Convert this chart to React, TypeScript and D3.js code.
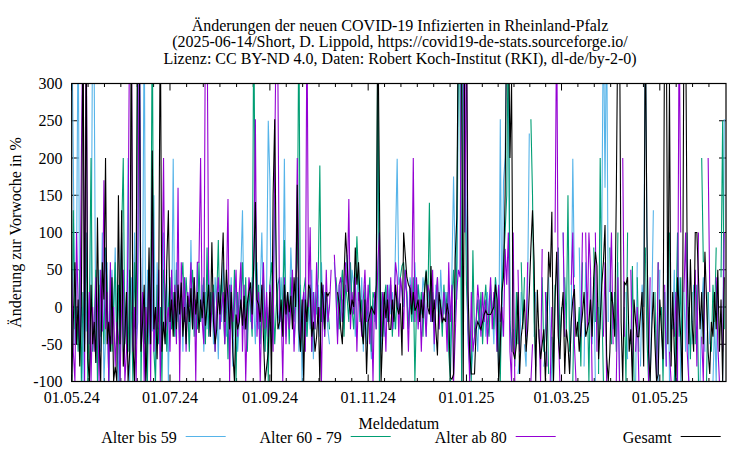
import React from 'react'
import * as d3 from 'd3'

const _ = null

// Änderung zur Vorwoche in %, täglich ab 01.05.2024 (eine Zeile = 7 Tage)
const alterBis59: (number | null)[] = [
  400, 200, -50, 50, 400, -60, 0,
  -100, 100, -33, 20, -50, 0, 400,
  300, -75, -20, 50, -60, 100, -100,
  -40, 60, -100, 0, 50, -20, 80,
  -50, -100, 33, 100, -60, 0, -40,
  200, -100, 40, -30, 100, -50, -20,
  400, -60, 0, 400, -100, 50, -50,
  20, -33, 150, -100, 60, -20, 0,
  -70, 100, -50, 50, -100, 20, -30,
  199, -40, 60, -20, 0, 30, -60,
  40, -10, 20, -50, 90, -30, 10,
  -40, 60, 0, -20, 30, -60, 20,
  -30, 50, -10, 20, -50, 40, 0,
  -70, 30, -20, 60, 10, -40, 20,
  -10, 40, -80, 0, 30, -60, -20,
  50, 130, -30, 10, -40, 30, -20,
  40, 0, -50, 60, -30, 20, 100,
  -10, -60, 30, 250, 170, -50, 10,
  150, 60, -5, -30, 40, -20, 199,
  -40, 10, -30, 80, 20, -50, -20,
  40, -60, 30, -100, 0, 20, -40,
  10, -30, 50, -70, 20, -10, 30,
  -40, 60, -20, 20, 0, -30, -50,
  _, _, 60, 20, -40, 30, -20,
  10, -30, 40, 70, 20, -10, 50,
  30, -40, 10, 60, -20, 40, -60,
  20, -50, 0, -30, -70, 10, -20,
  30, 250, -30, -60, 10, -40, 20,
  -20, 30, -10, 20, -30, 90, 199,
  30, 40, 20, 0, 50, 20, -30,
  40, 20, -20, 60, 0, 30, 10,
  -10, 40, 20, -40, 30, 0, -20,
  20, -60, 30, 10, -30, 50, 0,
  -10, 20, -40, 30, -80, 50, 175,
  60, 10, 300, 400, -100, 400, 250,
  100, -50, -80, -90, -60, -40, -20,
  -60, 10, -30, -10, 0, -40, 20,
  -20, 30, 0, -50, 40, 20, -90,
  252, -40, 169, 200, 400, 300, -20,
  -60, -30, _, _, -90, -70, 20,
  _, -50, -80, 30, 233, _, _,
  -40, 20, _, _, _, _, -80,
  -60, _, 40, -30, -100, _, _,
  60, -20, -70, _, 100, -40, _,
  _, -90, -20, 199, 40, _, _,
  80, -40, _, -80, 60, -10, _,
  _, -50, 40, -100, _, 0, -30,
  100, 400, 160, 400, -20, _, _,
  -30, 20, _, 60, -100, _, -60,
  _, 20, -70, _, -40, _, _,
  -100, 60, _, -80, 30, 0, 400,
  100, -60, -100, -3, 130, _, _,
  -100, 50, _, _, 20, -80, 100,
  -100, _, -30, 50, -100, _, 40,
  -100, _, 20, -60, 100, -100, _,
  -50, 30, _, 70, _, -100, 0,
  40, -60, _, 20, -50, _, -100,
  -20, -100, 40, _, _, -100, 252,
]

const alter60bis79: (number | null)[] = [
  -100, 130, -30, 0, -60, 50, -100,
  20, -50, 100, -100, 0, 200, -60,
  -20, 50, -100, 30, -40, 0, -50,
  80, 20, -100, 50, -60, 0, 60,
  -50, 30, -100, 100, 200, -50, 20,
  -60, 50, 0, -100, 60, -30, 400,
  400, -100, 20, -50, 0, -100, 50,
  -20, 400, -60, -100, 30, -50, 0,
  -100, 50, 20, -60, 0, 40, -30,
  20, -40, 50, 0, -50, 30, 60,
  -20, 40, 0, -60, 20, 50, -40,
  10, -30, 60, -20, 0, 40, -50,
  80, -40, 20, -10, 30, -60, 10,
  90, -30, 40, 0, -50, 20, -70,
  30, 0, -40, 50, -100, 20, -20,
  10, 60, -30, 40, -60, 20, 0,
  -40, 400, 50, -20, 30, -50, 10,
  40, -60, 0, -100, 30, 60, 20,
  -50, 0, 30, 40, -20, 10, 90,
  -30, 20, -50, 40, 0, -20, 30,
  60, 400, -60, -30, 20, 40, -40,
  0, 30, -60, 20, -30, 10, 40,
  190, -20, 30, -40, 20, 0, -30,
  _, _, _, 40, 10, -30, 20,
  50, -40, 30, 10, -20, 60, 0,
  -30, 20, 95, 40, -20, 10, -50,
  30, -20, 0, 40, -60, 20, 10,
  -30, 400, -100, 20, -40, 10, 30,
  -20, 0, 30, -40, 10, -30, 20,
  -10, 40, 55, 60, 30, 20, -30,
  10, -20, 40, -100, 0, 30, -10,
  20, -40, 30, 50, 0, 140, -20,
  20, -30, 0, 40, -20, 10, -40,
  30, -10, 20, -60, -100, 10, 50,
  -20, 60, 400, 300, -100, 400, 200,
  30, -30, -60, -100, 76, -40, -20,
  10, -30, 20, -50, 0, 30, -20,
  -40, 20, 0, -30, 40, -60, 10,
  -100, 30, 60, 100, 150, 400, -20,
  -60, _, -80, 20, -50, _, 60,
  -30, 40, _, -100, _, 252, 150,
  -20, -80, _, _, _, 40, -60,
  -30, 20, -90, _, -40, -100, 30,
  _, 80, -50, 0, _, 40, -30,
  150, -60, _, -100, 30, _, -40,
  0, -80, 60, _, _, 20, -100,
  40, _, 80, -20, _, -90, 200,
  10, -100, _, -40, _, 80, -50,
  _, 20, -60, 100, _, -70, _,
  0, -100, 100, _, -50, 55, -100,
  _, 40, -60, _, -30, _, 80,
  -40, -100, _, -60, _, 20, -100,
  60, _, 0, -100, 20, _, _,
  100, -60, _, -100, -20, 100, -40,
  40, -100, _, 60, _, 0, -70,
  20, _, -50, 30, -100, _, 200,
  60, _, -100, 20, _, -60, 30,
  -20, 80, _, _, 40, 250, -30,
]

const alterAb80: (number | null)[] = [
  50, -60, -100, 100, 0, -50, 200,
  400, -100, 400, -50, 20, -100, 0,
  -60, 40, 0, -100, 50, -33, 170,
  -30, 20, -100, 60, -50, 0, -80,
  -20, -40, -100, 0, 50, -100, -60,
  100, 400, 400, -60, 0, -100, 50,
  400, -50, 20, -100, 0, -40, 50,
  -100, 160, -60, 0, -30, 50, -100,
  20, 200, -40, -20, 0, -60, 50,
  -30, 30, -50, 160, -100, 60, -20,
  40, -60, 20, 0, 60, -30, 40,
  -100, 60, 60, 200, -20, -50, 400,
  400, 30, -40, 0, 20, -60, 10,
  40, -30, 0, 20, -50, 20, 145,
  -100, 30, -20, 0, 50, -40, 20,
  60, -60, 30, -100, -10, 40, 20,
  -30, 50, 252, -40, 20, -100, 0,
  60, -30, 20, -40, 30, 0, -60,
  200, 400, 300, -20, 0, -100, 40,
  -50, 20, -30, 0, 50, -60, 10,
  200, 40, -50, 0, 20, -60, 400,
  0, 107, -60, 20, -30, 60, -20,
  0, -100, 30, -40, 50, -20, 0,
  50, _, 70, 20, -50, 30, 40,
  -20, 0, 60, 20, 145, -30, 20,
  -10, 40, -60, 20, 0, -40, 10,
  50, -20, 30, -50, 0, -100, 20,
  -30, 60, 100, -40, 20, 0, -60,
  30, -20, 40, -30, 0, 60, 40,
  -40, 40, 20, -30, 50, 10, -60,
  30, 0, 200, -20, 40, -30, 10,
  -60, 20, 0, -40, 30, 20, -20,
  50, -50, 10, 40, -30, 0, -20,
  20, 0, -60, 60, -20, 30, -100,
  -40, 20, 50, 40, 400, 400, 100,
  400, -30, -100, 20, -60, -40, -20,
  30, 0, -40, 20, -20, 10, -50,
  0, 40, -30, 20, 0, -60, 30,
  -20, 0, -40, 78, 30, 100, -60,
  -100, 100, -100, _, 50, -60, _,
  -80, _, -40, 60, _, -100, -50,
  _, 78, _, -30, -100, 78, _,
  20, -80, _, -100, 0, _, 100,
  400, -30, -100, _, 100, -40, _,
  -60, _, 30, 100, -50, -100, _,
  _, -40, 100, _, 100, -30, 100,
  50, -100, _, 100, -60, _, -90,
  _, -40, 60, -100, _, 20, 100,
  -50, _, -100, 40, -100, _, 200,
  -40, _, -100, _, 50, -80, _,
  -60, 0, -100, _, 50, _, -60,
  _, -100, 40, _, 0, _, -100,
  60, _, -100, _, 30, -80, _,
  -60, -100, _, -40, 20, -100, 400,
  100, _, 20, 100, -60, -100, _,
  30, _, 50, -80, 100, _, -40,
  -100, 60, _, 200, 20, _, -100,
  _, 40, -50, -100, _, -60, 100,
]

const gesamt: (number | null)[] = [
  -100, -20, 60, -50, 10, -80, 0,
  400, -60, 360, -70, -100, 30, -50,
  -20, -75, 120, -40, -100, 60, 10,
  200, -50, -20, -60, 40, -100, -80,
  -100, 150, -50, 130, -80, -40, 20,
  -100, -60, 400, -50, -100, 50, 400,
  350, -60, -20, 30, -100, -40, 80,
  -50, 210, -30, 0, -70, 20, 400,
  -60, -20, -50, 60, 130, -20, 10,
  -40, 20, -30, 30, -10, 33, -40,
  0, -50, 15, -20, 25, -30, 40,
  -10, 20, -35, 10, -15, 20, -25,
  0, 30, -40, 87, -20, -50, -30,
  20, -10, 40, 100, -20, 50, 10,
  -30, 20, -60, -100, -10, -30, -20,
  10, -25, 15, -30, 5, 20, 33,
  -10, 60, 141, 10, 3, -20, 30,
  -40, -100, -80, -60, 20, -100, 150,
  252, 40, -30, -20, 10, -40, 30,
  -10, 20, -7, 15, -30, 40, 0,
  164, -30, -60, 10, -100, 10, -20,
  30, 24, -40, -20, -60, -40, 0,
  -100, 33, 10, -30, 20, 15, 20,
  _, _, _, _, 20, 5, -30,
  -50, 40, 100, 60, 10, -10, 10,
  0, 80, 30, 60, 10, -30, -50,
  10, -90, -20, -10, 0, -5, -10,
  30, 400, 150, -100, -40, 20, -15,
  10, -30, -30, 10, -20, 30, 0,
  -10, 5, -65, 100, 70, 40, 30,
  25, -10, 20, -5, 0, 10, -20,
  10, -15, 20, 48, 0, -10, 55,
  -20, 10, -30, -65, 20, 0, -20,
  -15, -20, 5, -10, -95, -97, -90,
  65, 120, 400, 400, 300, -100, 400,
  400, 20, -60, -90, -90, -90, -30,
  -20, -25, -30, -20, -10, -5, -10,
  -10, -10, -5, 0, 30, 10, -100,
  -50, 20, 40, 150, 400, 400, 200,
  300, -60, -70, -50, 20, -90, -40,
  -20, 10, -60, -30, 20, 80, 130,
  60, -100, 23, -40, -70, -50, -30,
  -100, -30, 74, 40, 128, -100, 10,
  74, -40, -70, -10, 20, -90, -30,
  -50, -90, -20, 10, 24, -40, -20,
  -60, -30, -10, 20, -40, -30, -20,
  10, -40, 40, 74, 55, -70, -20,
  30, 60, 110, -65, -100, -60, 20,
  0, -40, 150, 400, 400, -20, -100,
  33, 30, 40, -60, -30, -100, 10,
  -20, -40, -40, -10, 20, -80, 400,
  100, -60, -100, -30, 20, -50, -100,
  -90, 10, -30, -70, 400, 400, -50,
  300, -80, 20, -60, -100, 40, -3,
  -40, -100, 400, 400, 60, -50, 64,
  -20, -60, 100, 100, 40, -30, 20,
  -50, 74, 10, -60, -90, -20, -40,
  20, -30, 50, -60, 10, -100, 40,
]

const seriesNames = ['Alter bis 59', 'Alter 60 - 79', 'Alter ab 80', 'Gesamt']
const seriesColors = ['#56b4e9', '#009e73', '#9400d3', '#000000']
const seriesData = [alterBis59, alter60bis79, alterAb80, gesamt]

const majorTickDates = [
  new Date(2024, 4, 1), new Date(2024, 6, 1), new Date(2024, 8, 1), new Date(2024, 10, 1),
  new Date(2025, 0, 1), new Date(2025, 2, 1), new Date(2025, 4, 1),
]
const yTickValues = [-100, -50, 0, 50, 100, 150, 200, 250, 300]

const titleLines = [
  'Änderungen der neuen COVID-19 Infizierten in Rheinland-Pfalz',
  '(2025-06-14/Short, D. Lippold, https://covid19-de-stats.sourceforge.io/',
  'Lizenz: CC BY-ND 4.0, Daten: Robert Koch-Institut (RKI), dl-de/by-2-0)',
]

const W = 750
const H = 450
const left = 71.7
const right = 726
const top = 83.5
const bottom = 381.5
const font = '"Liberation Serif", "Times New Roman", serif'

const startDate = new Date(2024, 4, 1)
const endDate = new Date(2025, 5, 11, 2)

export default function App() {
  const x = d3.scaleTime().domain([startDate, endDate]).range([left, right])
  const y = d3.scaleLinear().domain([-100, 300]).range([bottom, top])
  const fmt = d3.timeFormat('%d.%m.%y')

  const line = d3
    .line<number | null>()
    .defined((d) => d !== null)
    .x((_d, i) => x(d3.timeDay.offset(startDate, i)))
    .y((d) => y(d as number))

  // kleine Zwischenstriche: 6 pro Zwei-Monats-Intervall
  const minor: number[] = []
  for (let i = 0; i < majorTickDates.length - 1; i++) {
    const a = x(majorTickDates[i])
    const b = x(majorTickDates[i + 1])
    for (let k = 1; k < 6; k++) minor.push(a + ((b - a) * k) / 6)
  }
  {
    const last = x(majorTickDates[majorTickDates.length - 1])
    const step = (x(majorTickDates[6]) - x(majorTickDates[5])) / 6
    for (let p = last + step; p < right - 1; p += step) minor.push(p)
  }

  const legendStarts = [185.7, 350.7, 515.7, 680.7]

  return (
    <svg
      width={W}
      height={H}
      style={{ position: 'absolute', left: 0, top: 0, background: '#fff' }}
      fontFamily={font}
      fontSize={16}
    >
      <defs>
        <clipPath id="plotClip">
          <rect x={left} y={top} width={right - left} height={bottom - top} />
        </clipPath>
      </defs>

      {titleLines.map((t, i) => (
        <text key={i} x={400} y={30.5 + i * 16.8} textAnchor="middle" fill="#000">
          {t}
        </text>
      ))}

      {/* y-Achse */}
      {yTickValues.map((v) => (
        <g key={v}>
          <line x1={left} x2={left + 7} y1={y(v)} y2={y(v)} stroke="#000" />
          <line x1={right} x2={right - 7} y1={y(v)} y2={y(v)} stroke="#000" />
          <text x={62.5} y={y(v) + 5.5} textAnchor="end">
            {v}
          </text>
        </g>
      ))}

      {/* x-Achse */}
      {majorTickDates.map((d, i) => (
        <g key={i}>
          <line x1={x(d)} x2={x(d)} y1={bottom} y2={bottom - 7} stroke="#000" />
          <line x1={x(d)} x2={x(d)} y1={top} y2={top + 7} stroke="#000" />
          <text x={x(d)} y={403} textAnchor="middle">
            {fmt(d)}
          </text>
        </g>
      ))}
      {minor.map((p, i) => (
        <g key={'m' + i}>
          <line x1={p} x2={p} y1={bottom} y2={bottom - 3.5} stroke="#000" />
          <line x1={p} x2={p} y1={top} y2={top + 3.5} stroke="#000" />
        </g>
      ))}

      <g clipPath="url(#plotClip)">
        {seriesData.map((s, i) => (
          <path
            key={i}
            d={line(s) || ''}
            fill="none"
            stroke={seriesColors[i]}
            strokeWidth={1.1}
            strokeLinejoin="miter"
          />
        ))}
      </g>

      <rect
        x={left}
        y={top}
        width={right - left}
        height={bottom - top}
        fill="none"
        stroke="#000"
        strokeWidth={1.2}
      />

      <text x={(left + right) / 2} y={428.5} textAnchor="middle">
        Meldedatum
      </text>
      <text transform={`translate(21,${(top + bottom) / 2}) rotate(-90)`} textAnchor="middle">
        Änderung zur Vorwoche in %
      </text>

      {seriesNames.map((n, i) => (
        <g key={n}>
          <text x={legendStarts[i] - 9} y={442.7} textAnchor="end">
            {n}
          </text>
          <line
            x1={legendStarts[i]}
            x2={legendStarts[i] + 40}
            y1={436.5}
            y2={436.5}
            stroke={seriesColors[i]}
            strokeWidth={1.2}
          />
        </g>
      ))}
    </svg>
  )
}
